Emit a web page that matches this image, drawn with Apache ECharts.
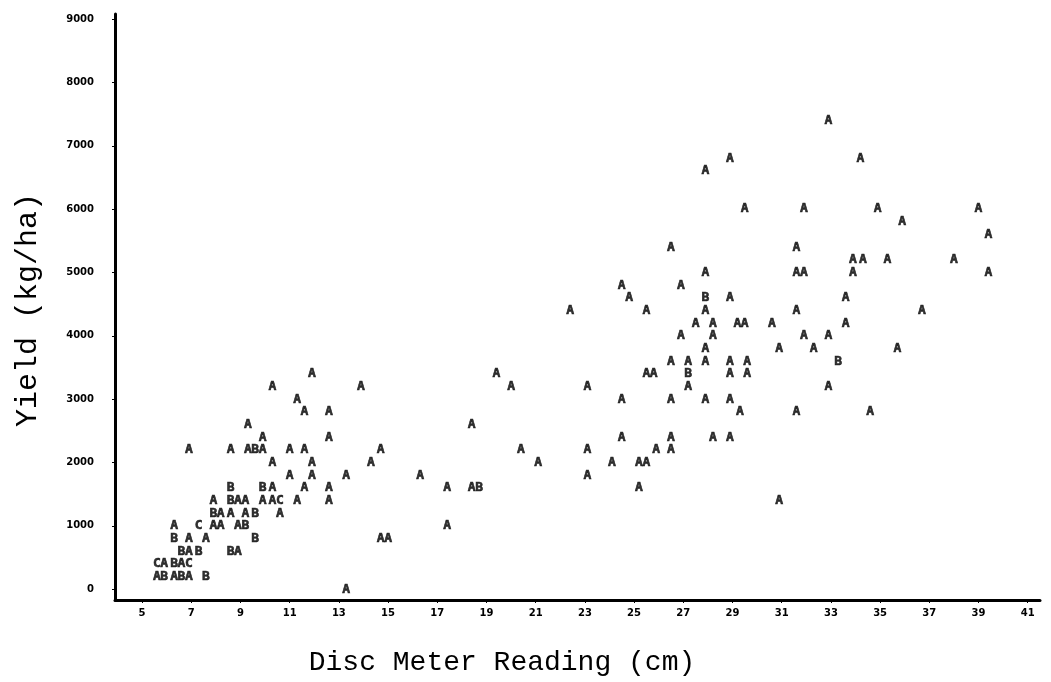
<!DOCTYPE html>
<html>
<head>
<meta charset="utf-8">
<script src="https://cdn.jsdelivr.net/npm/echarts@6/dist/echarts.min.js"></script>
<style>
  html, body { margin: 0; background: #fff; }
  #chart { width: 1051px; height: 682px; }
</style>
</head>
<body>
<div id="chart"></div>
<script>
// tick labels
const xLabels = [5, 7, 9, 11, 13, 15, 17, 19, 21, 23, 25, 27, 29, 31, 33, 35, 37, 39, 41];
const yLabels = [0, 1000, 2000, 3000, 4000, 5000, 6000, 7000, 8000, 9000];

// plot letters: A = 1 obs, B = 2 obs, C = 3 obs  [disc cm, yield kg/ha]
const obsA = [
  [13.3, 0],
  [5.6, 200], [6.3, 200], [6.9, 200],
  [5.9, 400], [6.6, 400],
  [6.9, 600], [8.9, 600],
  [6.9, 800], [7.6, 800], [14.7, 800], [15.0, 800],
  [6.3, 1000], [7.9, 1000], [8.2, 1000], [8.9, 1000], [17.4, 1000],
  [8.2, 1200], [8.6, 1200], [9.2, 1200], [10.6, 1200],
  [7.9, 1400], [8.9, 1400], [9.2, 1400], [9.9, 1400], [10.3, 1400], [11.3, 1400], [12.6, 1400], [30.9, 1400],
  [10.3, 1600], [11.6, 1600], [12.6, 1600], [17.4, 1600], [18.4, 1600], [25.2, 1600],
  [11.0, 1800], [11.9, 1800], [13.3, 1800], [16.3, 1800], [23.1, 1800],
  [10.3, 2000], [11.9, 2000], [14.3, 2000], [21.1, 2000], [24.1, 2000], [25.2, 2000], [25.5, 2000],
  [6.9, 2200], [8.6, 2200], [9.3, 2200], [9.9, 2200], [11.0, 2200], [11.6, 2200], [14.7, 2200], [20.4, 2200], [23.1, 2200], [25.9, 2200], [26.5, 2200],
  [9.9, 2400], [12.6, 2400], [24.5, 2400], [26.5, 2400], [28.2, 2400], [28.9, 2400],
  [9.3, 2600], [18.4, 2600],
  [11.6, 2800], [12.6, 2800], [29.3, 2800], [31.6, 2800], [34.6, 2800],
  [11.3, 3000], [24.5, 3000], [26.5, 3000], [27.9, 3000], [28.9, 3000],
  [10.3, 3200], [13.9, 3200], [20.0, 3200], [23.1, 3200], [27.2, 3200], [32.9, 3200],
  [11.9, 3400], [19.4, 3400], [25.5, 3400], [25.8, 3400], [28.9, 3400], [29.6, 3400],
  [26.5, 3600], [27.2, 3600], [27.9, 3600], [28.9, 3600], [29.6, 3600],
  [27.9, 3800], [30.9, 3800], [32.3, 3800], [35.7, 3800],
  [26.9, 4000], [28.2, 4000], [31.9, 4000], [32.9, 4000],
  [27.5, 4200], [28.2, 4200], [29.2, 4200], [29.5, 4200], [30.6, 4200], [33.6, 4200],
  [22.4, 4400], [25.5, 4400], [27.9, 4400], [31.6, 4400], [36.7, 4400],
  [24.8, 4600], [28.9, 4600], [33.6, 4600],
  [24.5, 4800], [26.9, 4800],
  [27.9, 5000], [31.6, 5000], [31.9, 5000], [33.9, 5000], [39.4, 5000],
  [33.9, 5200], [34.3, 5200], [35.3, 5200], [38.0, 5200],
  [26.5, 5400], [31.6, 5400],
  [39.4, 5600],
  [35.9, 5800],
  [29.5, 6000], [31.9, 6000], [34.9, 6000], [39.0, 6000],
  [27.9, 6600],
  [28.9, 6800], [34.2, 6800],
  [32.9, 7400]
];
const obsB = [
  [5.9, 200], [6.6, 200], [7.6, 200],
  [6.3, 400],
  [6.6, 600], [7.3, 600], [8.6, 600],
  [6.3, 800], [9.6, 800],
  [9.2, 1000],
  [7.9, 1200], [9.6, 1200],
  [8.6, 1400],
  [8.6, 1600], [9.9, 1600], [18.7, 1600],
  [9.6, 2200],
  [27.2, 3400],
  [33.3, 3600],
  [27.9, 4600]
];
const obsC = [
  [5.6, 400], [6.9, 400],
  [7.3, 1000],
  [10.6, 1400]
];

const chart = echarts.init(document.getElementById('chart'));

const letterSeries = (letter, data) => ({
  name: letter,
  type: 'scatter',
  data: data,
  symbol: 'circle',
  symbolSize: 2,
  itemStyle: { color: 'rgba(0,0,0,0)' },
  silent: true,
  label: {
    show: true,
    position: 'inside',
    formatter: letter,
    color: '#000',
    fontFamily: 'DejaVu Sans Mono',
    fontWeight: 'bold',
    fontSize: 13,
    textBorderColor: '#000',
    textBorderWidth: 0.6
  }
});

const tickFont = {
  color: '#000',
  fontFamily: 'DejaVu Sans',
  fontWeight: 'bold',
  fontSize: 10,
  formatter: v => String(v)
};

const titleFont = size => ({
  fontFamily: '"Liberation Mono", "Courier New", monospace',
  fontSize: size,
  fill: '#000',
  align: 'center',
  verticalAlign: 'middle'
});

chart.setOption({
  animation: false,
  backgroundColor: '#fff',
  grid: { left: 115, right: 11, top: 14, bottom: 82 },
  xAxis: {
    type: 'value',
    min: 3.9,
    max: 41.5,
    splitLine: { show: false },
    axisLine: { onZero: false, lineStyle: { color: '#000', width: 3 } },
    axisTick: { show: true, customValues: xLabels, length: 3, lineStyle: { color: '#000', width: 1 } },
    axisLabel: Object.assign({ customValues: xLabels, margin: 8 }, tickFont)
  },
  yAxis: {
    type: 'value',
    min: -170,
    max: 9080,
    splitLine: { show: false },
    axisLine: { onZero: false, lineStyle: { color: '#000', width: 3 } },
    axisTick: { show: true, customValues: yLabels, length: 3, lineStyle: { color: '#000', width: 1 } },
    axisLabel: Object.assign({ customValues: yLabels, margin: 21 }, tickFont)
  },
  graphic: [
    {
      type: 'text',
      x: 502,
      y: 663,
      style: Object.assign({ text: 'Disc Meter Reading (cm)' }, titleFont(28))
    },
    {
      type: 'text',
      x: 28,
      y: 310,
      rotation: Math.PI / 2,
      style: Object.assign({ text: 'Yield (kg/ha)' }, titleFont(30))
    }
  ],
  series: [
    letterSeries('A', obsA),
    letterSeries('B', obsB),
    letterSeries('C', obsC)
  ]
});
</script>
</body>
</html>
